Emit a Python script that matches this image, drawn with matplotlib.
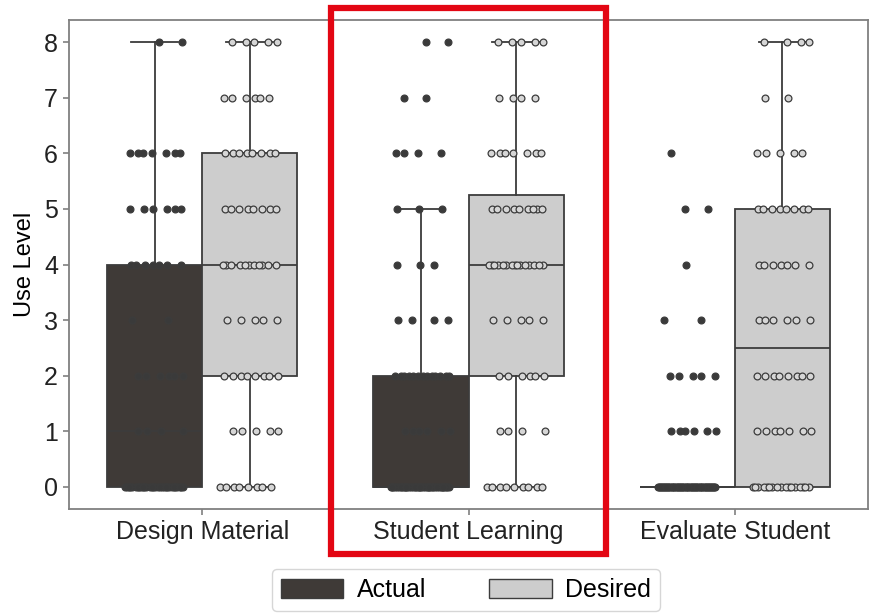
import matplotlib
matplotlib.use("Agg")
import matplotlib.pyplot as plt
import matplotlib.patches as mpatches
import numpy as np

plt.rcParams['font.family'] = ['Liberation Sans', 'DejaVu Sans']

categories = ["Design Material", "Student Learning", "Evaluate Student"]
hues = ["Actual", "Desired"]
levels = [0, 1, 2, 3, 4, 5, 6, 7, 8]

# number of respondents at each use level (0..8)
design_actual = [30, 4, 6, 2, 7, 6, 7, 0, 2]
design_desired = [8, 5, 8, 5, 11, 8, 8, 6, 5]
student_actual = [39, 6, 13, 4, 3, 3, 4, 2, 2]
student_desired = [9, 4, 6, 5, 15, 9, 7, 4, 5]
evaluate_actual = [55, 6, 5, 2, 1, 2, 1, 0, 0]
evaluate_desired = [17, 7, 8, 6, 7, 8, 5, 2, 4]

counts = [[design_actual, design_desired],
          [student_actual, student_desired],
          [evaluate_actual, evaluate_desired]]

box_fill = {"Actual": "#3f3a37", "Desired": "#cdcdcd"}
dot_fill = {"Actual": "#3a3a3a", "Desired": "#d6d6d6"}
edge = "#3c3c3c"

def expand(cnt):
    return np.repeat(levels, cnt).astype(float)

fig = plt.figure(figsize=(8.69, 6.14), dpi=100)
ax = fig.add_axes([69/869, 1 - 509/614, 799/869, 489/614])

bw = 0.357
for i, pair in enumerate(counts):
    for j, cnt in enumerate(pair):
        h = hues[j]
        pos = i + (j - 0.5) * bw
        vals = expand(cnt)
        ax.boxplot([vals], positions=[pos], widths=bw, patch_artist=True,
                   showfliers=False, zorder=1,
                   boxprops=dict(facecolor=box_fill[h], edgecolor=edge, linewidth=1.3),
                   medianprops=dict(color=edge, linewidth=1.3),
                   whiskerprops=dict(color=edge, linewidth=1.3),
                   capprops=dict(color=edge, linewidth=1.3),
                   capwidths=bw * 0.5)
        # strip points, spread evenly-ish across a band around the box centre
        xs, ys = [], []
        for lv, c in zip(levels, cnt):
            if c == 0:
                continue
            off = ((np.arange(c) * 0.618 + lv * 0.37) % 1 - 0.5) * bw * 0.62
            xs.extend(pos + off)
            ys.extend([lv] * c)
        ax.scatter(xs, ys, s=24, facecolor=dot_fill[h], edgecolor=edge,
                   linewidth=0.9, zorder=3)

ax.set_xlim(-0.5, 2.5)
ax.set_ylim(-0.4, 8.4)
ax.set_xticks(range(3))
ax.set_xticklabels(categories, fontsize=18)
ax.set_yticks(levels)
ax.set_yticklabels([str(v) for v in levels], fontsize=18)
ax.set_ylabel("Use Level", fontsize=17, labelpad=6)
for sp in ax.spines.values():
    sp.set_color("#808080")
    sp.set_linewidth(1.3)
ax.tick_params(colors="#808080", labelcolor="#222222", length=4, width=1.2, pad=4)

handles = [mpatches.Patch(facecolor=box_fill[h], edgecolor=edge, label=h) for h in hues]
fig.legend(handles=handles, loc="center", bbox_to_anchor=(466/869, 1 - 590/614),
           ncol=2, fontsize=18, frameon=True, handlelength=2.5, handleheight=0.8,
           columnspacing=2.5, handletextpad=0.55, edgecolor="#cccccc", fancybox=True,
           borderpad=0.35)

# highlight box around the middle group
fig.patches.append(mpatches.Rectangle((331/869, 1 - 554/614), 275/869, 546/614,
                                      transform=fig.transFigure, fill=False,
                                      edgecolor="#e30613", linewidth=4.5))

fig.savefig("out.png", dpi=100)
